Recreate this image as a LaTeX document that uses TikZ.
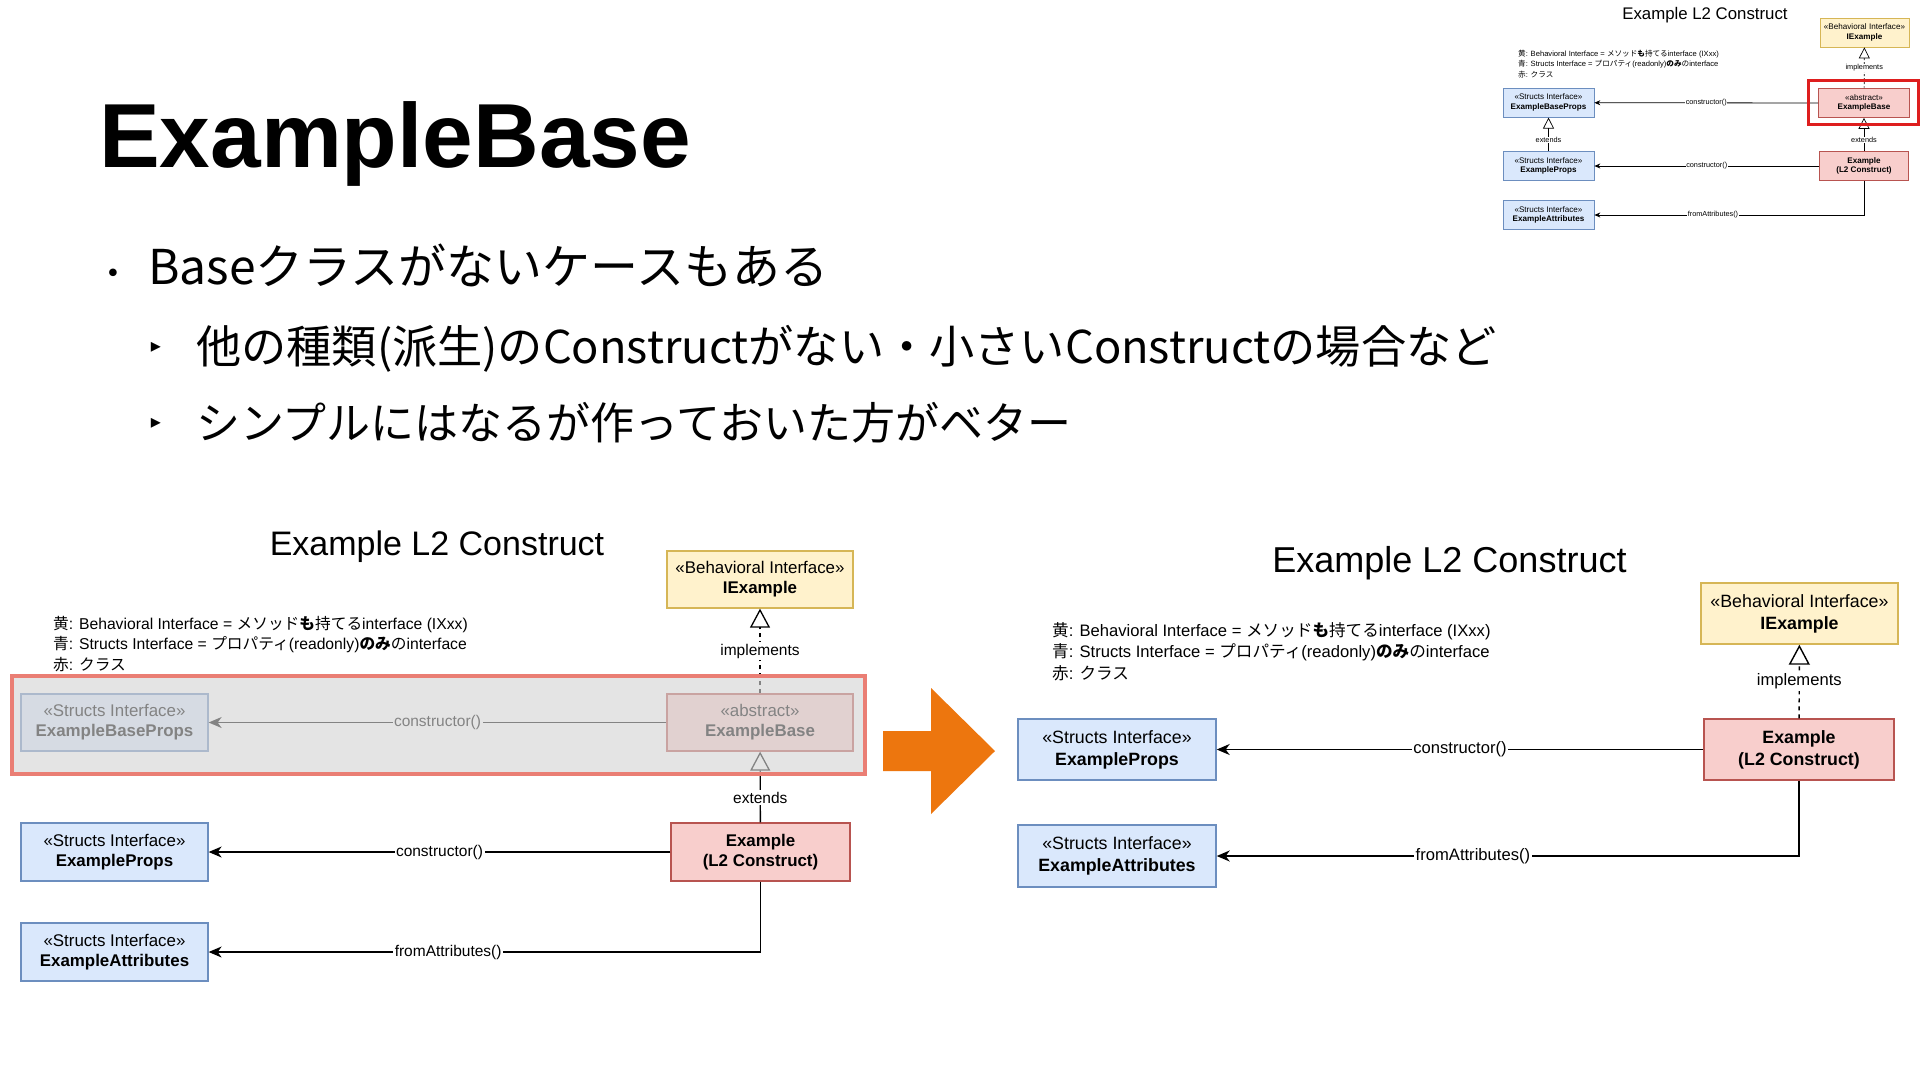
\documentclass[tikz,border=0pt]{standalone}
\usepackage{fontspec}
\setmainfont{Liberation Sans}
\newfontfamily\jp{Noto Sans CJK JP}
\newfontfamily\dv{DejaVu Sans}
\usetikzlibrary{arrows.meta}

\definecolor{bluefill}{HTML}{DAE8FC}
\definecolor{bluedraw}{HTML}{6C8EBF}
\definecolor{yelfill}{HTML}{FFF2CC}
\definecolor{yeldraw}{HTML}{D6B656}
\definecolor{redfill}{HTML}{F8CECC}
\definecolor{reddraw}{HTML}{B85450}
\definecolor{salmon}{RGB}{234,126,116}
\definecolor{hlred}{RGB}{222,30,30}
\definecolor{orangearrow}{RGB}{237,118,14}
\definecolor{veil}{RGB}{212,212,212}

\newcommand{\legA}{{\jp 黄}: Behavioral Interface = {\jp メソッド\textbf{も}持てる}interface (IXxx)}
\newcommand{\legB}{{\jp 青}: Structs Interface = {\jp プロパティ}(readonly){\jp \textbf{のみ}の}interface}
\newcommand{\legC}{{\jp 赤}: {\jp クラス}}

\tikzset{
  basebox/.style={draw, inner sep=0pt, align=center},
  Lbox/.style={basebox, line width=1.3pt, minimum width=187pt, minimum height=57pt, font=\fontsize{16.9}{20}\selectfont},
  Rbox/.style={basebox, line width=1.4pt, minimum width=198pt, minimum height=61pt, font=\fontsize{17.8}{22}\selectfont},
  Tbox/.style={basebox, line width=0.7pt, minimum width=91pt, minimum height=29pt, font=\fontsize{8.1}{9.7}\selectfont},
  sfill/.style={fill=bluefill, draw=bluedraw},
  yfill/.style={fill=yelfill, draw=yeldraw},
  rfill/.style={fill=redfill, draw=reddraw},
  Lconn/.style={line width=1.3pt, -{Stealth[length=13pt,width=11pt,inset=4pt]}},
  Rconn/.style={line width=1.4pt, -{Stealth[length=13pt,width=11pt,inset=4pt]}},
  Tconn/.style={line width=0.8pt, -{Stealth[length=6pt,width=5pt,inset=2pt]}},
  Linh/.style={line width=1.3pt, -{Triangle[open,length=19pt,width=20pt]}},
  Rinh/.style={line width=1.4pt, -{Triangle[open,length=20pt,width=21pt]}},
  Tinh/.style={line width=0.7pt, -{Triangle[open,length=11pt,width=11pt]}},
  Ldash/.style={dash pattern=on 4pt off 4pt},
  Tdash/.style={dash pattern=on 2pt off 2pt},
  Llbl/.style={fill=white, inner sep=1.5pt, font=\fontsize{15.5}{18}\selectfont},
  Rlbl/.style={fill=white, inner sep=1.5pt, font=\fontsize{16.6}{19}\selectfont},
  Tlbl/.style={fill=white, inner sep=0.5pt, font=\fontsize{7.3}{8.5}\selectfont},
  lgL/.style={anchor=base west, inner sep=0pt, font=\fontsize{15.7}{19}\selectfont},
  lgR/.style={anchor=base west, inner sep=0pt, font=\fontsize{16.6}{20}\selectfont},
  lgT/.style={anchor=base west, inner sep=0pt, font=\fontsize{7.6}{9}\selectfont},
}

\begin{document}
\begin{tikzpicture}[x=1pt, y=-1pt]
\path[use as bounding box, fill=white] (0,0) rectangle (1920,1080);

% ---------------- slide title and bullets ----------------
\node[anchor=base west, inner sep=0pt, font=\bfseries\fontsize{91}{100}\selectfont] (title) at (99,167) {ExampleBase};

\node[anchor=base, inner sep=0pt, font=\dv\fontsize{26}{30}\selectfont] (b1) at (113,282) {•};
\node[anchor=base west, inner sep=0pt, font=\jp\fontsize{48}{56}\selectfont] (t1) at (148,284) {Baseクラスがないケースもある};
\node[anchor=base, inner sep=0pt, font=\dv\fontsize{20}{24}\selectfont] (b2) at (156,352) {▸};
\node[anchor=base west, inner sep=0pt, font=\jp\fontsize{45.2}{52}\selectfont] (t2) at (196,363) {他の種類(派生)のConstructがない・小さいConstructの場合など};
\node[anchor=base, inner sep=0pt, font=\dv\fontsize{20}{24}\selectfont] (b3) at (156,428) {▸};
\node[anchor=base west, inner sep=0pt, font=\jp\fontsize{44}{52}\selectfont] (t3) at (196,439) {シンプルにはなるが作っておいた方がベター};

% ---------------- thumbnail (top right) ----------------
\node[anchor=base, inner sep=0pt, font=\fontsize{16.8}{20}\selectfont] (Ttitle) at (1705,19.5) {Example L2 Construct};
\node[lgT] (Tlg1) at (1518,56) {\legA};
\node[lgT] (Tlg2) at (1518,66.5) {\legB};
\node[lgT] (Tlg3) at (1518,77) {\legC};
\node[Tbox, yfill, minimum width=89pt] (TI) at (1864.5,32.5) {«Behavioral Interface»\\\textbf{IExample}};
\node[Tbox, rfill] (TB) at (1864,103) {«abstract»\\\textbf{ExampleBase}};
\node[Tbox, sfill] (TBP) at (1548.5,102.7) {«Structs Interface»\\\textbf{ExampleBaseProps}};
\node[Tbox, sfill] (TP) at (1548.5,166) {«Structs Interface»\\\textbf{ExampleProps}};
\node[Tbox, sfill] (TA) at (1548.5,215) {«Structs Interface»\\\textbf{ExampleAttributes}};
\node[Tbox, rfill, minimum width=89pt] (TE) at (1864,166) {\textbf{Example}\\\textbf{(L2 Construct)}};
\draw[Tconn] (TB) -- node[Tlbl] (Tc1) {constructor()} (TBP);
\draw[Tconn] (TE) -- node[Tlbl] (Tc2) {constructor()} (TP);
\draw[Tconn] (TE.south) |- node[Tlbl, pos=0.78] (Tc3) {fromAttributes()} (TA.east);
\draw[Tinh, Tdash] (TB) -- node[Tlbl] (Tc4) {implements} (TI);
\draw[Tinh] (TP) -- node[Tlbl, pos=0.34] (Tc5) {extends} (TBP);
\draw[Tinh] (TE) -- node[Tlbl, pos=0.34] (Tc6) {extends} (TB);
\draw[hlred, line width=3pt] (1808,80) rectangle (1918,124);

% ---------------- left diagram ----------------
\node[anchor=base, inner sep=0pt, font=\fontsize{34}{40}\selectfont] (LT) at (437,555) {Example L2 Construct};
\node[lgL] (Llg1) at (53,629) {\legA};
\node[lgL] (Llg2) at (53,649.5) {\legB};
\node[lgL] (Llg3) at (53,670) {\legC};
\node[Lbox, yfill, minimum width=186pt] (LI) at (760,579.5) {«Behavioral Interface»\\\textbf{IExample}};
\node[Lbox, rfill, minimum width=186pt] (LB) at (760,722.5) {«abstract»\\\textbf{ExampleBase}};
\node[Lbox, sfill] (LBP) at (114.5,722.5) {«Structs Interface»\\\textbf{ExampleBaseProps}};
\node[Lbox, sfill, minimum height=58pt] (LP) at (114.5,852) {«Structs Interface»\\\textbf{ExampleProps}};
\node[Lbox, sfill, minimum height=58pt] (LA) at (114.5,952) {«Structs Interface»\\\textbf{ExampleAttributes}};
\node[Lbox, rfill, minimum width=179pt, minimum height=58pt] (LE) at (760.5,852) {\textbf{Example}\\\textbf{(L2 Construct)}};
\draw[Lconn] (LB) -- node[Llbl] (Lc1) {constructor()} (LBP);
\draw[Lconn] (LE) -- node[Llbl] (Lc2) {constructor()} (LP);
\draw[Lconn] (LE.south) |- node[Llbl, pos=0.783] (Lc3) {fromAttributes()} (LA.east);
\draw[Linh, Ldash] (LB) -- node[Llbl] (Lc4) {implements} (LI);
\draw[Linh] (LE) -- node[Llbl, pos=0.35] (Lc5) {extends} (LB);
% greyed-out region
\fill[veil, fill opacity=0.62] (12,676) rectangle (865,774);
\draw[salmon, line width=4pt] (12,676) rectangle (865,774);

% ---------------- orange arrow ----------------
\fill[orangearrow] (883,731) -- (931,731) -- (931,688) -- (995,751) -- (931,814) -- (931,771) -- (883,771) -- cycle;

% ---------------- right diagram ----------------
\node[anchor=base, inner sep=0pt, font=\fontsize{36}{42}\selectfont] (RT) at (1449.5,572) {Example L2 Construct};
\node[lgR] (Rlg1) at (1052,636) {\legA};
\node[lgR] (Rlg2) at (1052,657.5) {\legB};
\node[lgR] (Rlg3) at (1052,679) {\legC};
\node[Rbox, yfill, minimum width=197pt] (RI) at (1799.5,613.5) {«Behavioral Interface»\\\textbf{IExample}};
\node[Rbox, rfill, minimum width=190pt] (RE) at (1799,749.5) {\textbf{Example}\\\textbf{(L2 Construct)}};
\node[Rbox, sfill] (RP) at (1117,749.5) {«Structs Interface»\\\textbf{ExampleProps}};
\node[Rbox, sfill, minimum height=62pt] (RA) at (1117,856) {«Structs Interface»\\\textbf{ExampleAttributes}};
\draw[Rconn] (RE) -- node[Rlbl] (Rc1) {constructor()} (RP);
\draw[Rconn] (RE.south) |- node[Rlbl, pos=0.78] (Rc2) {fromAttributes()} (RA.east);
\draw[Rinh, Ldash] (RE) -- node[Rlbl] (Rc3) {implements} (RI);
\end{tikzpicture}
\end{document}
